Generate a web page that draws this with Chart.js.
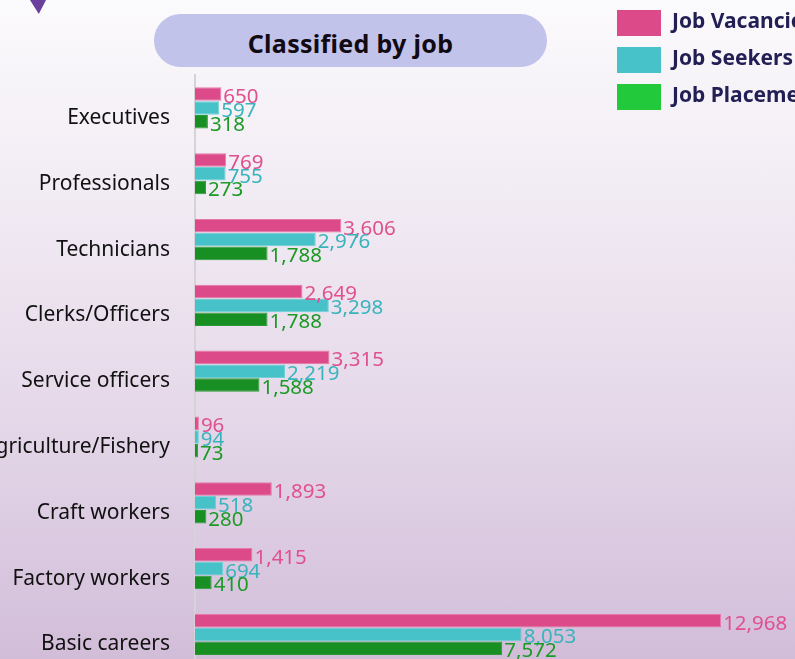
<!DOCTYPE html>
<html>
<head>
<meta charset="utf-8">
<script src="https://cdn.jsdelivr.net/npm/chart.js@4.4.1/dist/chart.umd.min.js"></script>
<style>
  html, body { margin: 0; padding: 0; overflow: hidden; }
  body {
    width: 795px; height: 659px; position: relative;
    background: linear-gradient(to bottom, #fbfafc 0%, #f3eef5 25%, #e6daea 60%, #d2bdd9 100%);
    font-family: "Noto Sans", sans-serif;
  }
  #deco {
    position: absolute; left: 30px; top: 0; width: 16px; height: 14px;
    background: #6b3f9c; clip-path: polygon(0 0, 100% 0, 55% 100%);
  }
  #title {
    position: absolute; left: 154px; top: 14px; width: 393px; height: 53px;
    border-radius: 27px; background: #c1c3ea;
    font: bold 25px "Noto Sans", sans-serif; color: #120a12;
    text-align: center; line-height: 58px; letter-spacing: 0.3px;
  }
  #c { position: absolute; left: 0; top: 0; }
</style>
</head>
<body>
<div id="deco"></div>
<div id="title">Classified by job</div>
<canvas id="c" width="795" height="697"></canvas>
<script>
// kategori pekerjaan
var jobs = ['Executives', 'Professionals', 'Technicians', 'Clerks/Officers', 'Service officers',
  'Agriculture/Fishery', 'Craft workers', 'Factory workers', 'Basic careers'];

// nilai tiap seri
var vacancies = [650, 769, 3606, 2649, 3315, 96, 1893, 1415, 12968];
var seekers = [597, 755, 2976, 3298, 2219, 94, 518, 694, 8053];
var placements = [318, 273, 1788, 1788, 1588, 73, 280, 410, 7572];

var seriesNames = ['Job Vacancies', 'Job Seekers', 'Job Placements'];
var barColors = ['#dc4a8a', '#47c2c9', '#178f22'];
var textColors = ['#e0508f', '#38b4bc', '#1b9a26'];
var legendColors = ['#dc4a8a', '#47c2c9', '#22c93a'];

// label angka di ujung batang
var valueLabels = {
  id: 'valueLabels',
  afterDatasetsDraw: function (chart) {
    var ctx = chart.ctx;
    ctx.save();
    ctx.font = '20.5px "Noto Sans", sans-serif';
    ctx.textAlign = 'left';
    ctx.textBaseline = 'middle';
    chart.data.datasets.forEach(function (ds, i) {
      var meta = chart.getDatasetMeta(i);
      ctx.fillStyle = textColors[i];
      meta.data.forEach(function (bar, j) {
        ctx.fillText(ds.data[j].toLocaleString('en-US'), bar.x + 2, bar.y + 3);
      });
    });
    ctx.restore();
  }
};

// legenda vertikal di kanan atas
var sideLegend = {
  id: 'sideLegend',
  afterDraw: function (chart) {
    var ctx = chart.ctx;
    ctx.save();
    ctx.font = 'bold 21px "Noto Sans", sans-serif';
    ctx.textBaseline = 'middle';
    ctx.textAlign = 'left';
    chart.data.datasets.forEach(function (ds, i) {
      var y = 10 + i * 37;
      ctx.fillStyle = legendColors[i];
      ctx.fillRect(617, y, 44, 26);
      ctx.fillStyle = '#221f55';
      ctx.fillText(ds.label, 672, y + 12);
    });
    ctx.restore();
  }
};

new Chart(document.getElementById('c'), {
  type: 'bar',
  data: {
    labels: jobs,
    datasets: [
      { label: seriesNames[0], data: vacancies, backgroundColor: barColors[0], borderColor: '#e77aa8', borderWidth: 1 },
      { label: seriesNames[1], data: seekers, backgroundColor: barColors[1], borderColor: '#6fd0d5', borderWidth: 1 },
      { label: seriesNames[2], data: placements, backgroundColor: barColors[2], borderColor: '#2a9a34', borderWidth: 1 },
    ],
  },
  options: {
    indexAxis: 'y',
    responsive: false,
    animation: false,
    categoryPercentage: 0.63,
    barPercentage: 0.98,
    layout: { padding: { top: 75, right: 32, bottom: 13, left: 0 } },
    plugins: {
      legend: { display: false },
      title: { display: false },
      tooltip: { enabled: false },
    },
    scales: {
      x: {
        display: false,
        min: 0,
        max: 14000,
      },
      y: {
        afterFit: function (scale) { scale.width = 195; },
        grid: { display: false },
        border: { display: true, color: '#d6d3d8', width: 2 },
        ticks: {
          color: '#111111',
          padding: 17,
          labelOffset: 10,
          font: { family: 'Noto Sans', size: 21 },
        },
      },
    },
  },
  plugins: [valueLabels, sideLegend],
});
</script>
</body>
</html>
